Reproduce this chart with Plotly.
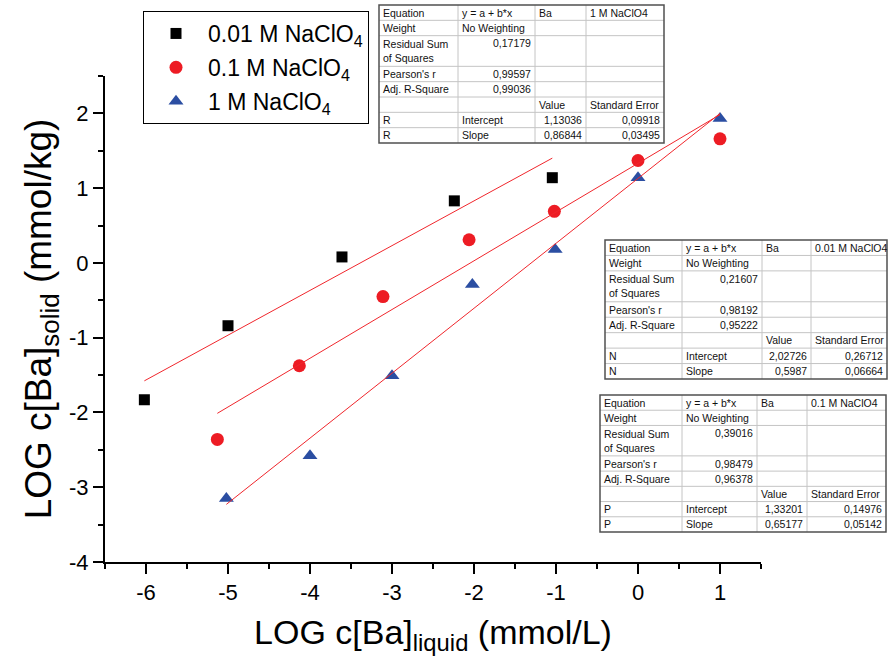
import plotly.graph_objects as go

# ---------------- data ----------------
series_names = ["0.01 M NaClO<sub>4</sub>", "0.1 M NaClO<sub>4</sub>", "1 M NaClO<sub>4</sub>"]

x_001 = [-6.02, -5.0, -3.61, -2.24, -1.045]
y_001 = [-1.83, -0.84, 0.08, 0.83, 1.14]

x_01 = [-5.13, -4.13, -3.11, -2.06, -1.02, 0.0, 1.0]
y_01 = [-2.36, -1.375, -0.45, 0.31, 0.69, 1.37, 1.66]

x_1 = [-5.02, -4.0, -3.0, -2.02, -1.01, 0.0, 1.0]
y_1 = [-3.15, -2.58, -1.51, -0.29, 0.18, 1.14, 1.93]

# linear fit results (same order as series)
fit_intercept = [2.02726, 1.33201, 1.13036]
fit_slope = [0.5987, 0.65177, 0.86844]

# fit report tables (order: 1 M, 0.01 M, 0.1 M as drawn top to bottom)
table_series = ["1 M NaClO4", "0.01 M NaClO4", "0.1 M NaClO4"]
table_rss = ["0,17179", "0,21607", "0,39016"]
table_pearson = ["0,99597", "0,98192", "0,98479"]
table_adjr2 = ["0,99036", "0,95222", "0,96378"]
table_letter = ["R", "N", "P"]
table_intercept = ["1,13036", "2,02726", "1,33201"]
table_intercept_se = ["0,09918", "0,26712", "0,14976"]
table_slope = ["0,86844", "0,5987", "0,65177"]
table_slope_se = ["0,03495", "0,06664", "0,05142"]

x_ticks = [-6, -5, -4, -3, -2, -1, 0, 1]
y_ticks = [-4, -3, -2, -1, 0, 1, 2]

# ---------------- layout helpers ----------------
W, H = 889, 671
ML, MR, MT, MB = 105, 128, 76, 109
PW, PH = W - ML - MR, H - MT - MB
FONT = "Liberation Sans, Arial, Helvetica, sans-serif"


def px(x):
    return (x - ML) / PW


def py(y):
    return (H - MB - y) / PH


fig = go.Figure()

xs = [x_001, x_01, x_1]
ys = [y_001, y_01, y_1]
symbols = ["square", "circle", "triangle-up"]
colors = ["#000000", "#ED1C24", "#2B4EA2"]
sizes = [11, 13, 13]

for i in range(3):
    fig.add_trace(go.Scatter(
        x=xs[i], y=ys[i], mode="markers", name=series_names[i],
        legendgroup=str(i),
        marker=dict(symbol=symbols[i], color=colors[i], size=sizes[i], line=dict(width=0)),
    ))

for i in range(3):
    xr = [min(xs[i]), max(xs[i])]
    yr = [fit_intercept[i] + fit_slope[i] * v for v in xr]
    fig.add_trace(go.Scatter(
        x=xr, y=yr, mode="lines", showlegend=False, hoverinfo="skip",
        line=dict(color="#F0262C", width=1),
    ))

# ---------------- tables ----------------
table_cols = [
    [379, 458, 535, 586, 664],
    [605, 682, 762, 811, 887],
    [600, 682, 757, 807, 886],
]
table_top = [5, 240, 395]
table_bottom = [143, 379, 532]

shapes = []
annotations = []
for t in range(3):
    cols = table_cols[t]
    top, bot = table_top[t], table_bottom[t]
    unit = (bot - top) / 9.0
    units = [1, 1, 2, 1, 1, 1, 1, 1]
    lines_y = [top]
    for u in units:
        lines_y.append(lines_y[-1] + u * unit)
    shapes.append(dict(type="rect", xref="paper", yref="paper", layer="above",
                       x0=px(cols[0]), x1=px(cols[-1]), y0=py(top), y1=py(bot),
                       fillcolor="white", line=dict(width=0)))
    for yl in lines_y[1:-1]:
        shapes.append(dict(type="line", xref="paper", yref="paper", layer="above",
                           x0=px(cols[0]), x1=px(cols[-1]), y0=py(yl), y1=py(yl),
                           line=dict(color="#C4C4C4", width=1)))
    for xc in cols[1:-1]:
        shapes.append(dict(type="line", xref="paper", yref="paper", layer="above",
                           x0=px(xc), x1=px(xc), y0=py(top), y1=py(bot),
                           line=dict(color="#C4C4C4", width=1)))
    shapes.append(dict(type="rect", xref="paper", yref="paper", layer="above",
                       x0=px(cols[0]), x1=px(cols[-1]), y0=py(top), y1=py(bot),
                       line=dict(color="#505050", width=1.5)))

    rows = [
        [("Equation", "l"), ("y = a + b*x", "l"), ("Ba", "l"), (table_series[t], "l")],
        [("Weight", "l"), ("No Weighting", "l"), ("", "l"), ("", "l")],
        [("Residual Sum<br>of Squares", "l"), (table_rss[t], "r"), ("", "l"), ("", "l")],
        [("Pearson's r", "l"), (table_pearson[t], "r"), ("", "l"), ("", "l")],
        [("Adj. R-Square", "l"), (table_adjr2[t], "r"), ("", "l"), ("", "l")],
        [("", "l"), ("", "l"), ("Value", "l"), ("Standard Error", "l")],
        [(table_letter[t], "l"), ("Intercept", "l"), (table_intercept[t], "r"), (table_intercept_se[t], "r")],
        [(table_letter[t], "l"), ("Slope", "l"), (table_slope[t], "r"), (table_slope_se[t], "r")],
    ]
    for r, row in enumerate(rows):
        y0, y1 = lines_y[r], lines_y[r + 1]
        for c, (txt, al) in enumerate(row):
            if not txt:
                continue
            if units[r] == 2 and c > 0:
                yc = y0 + unit / 2
            else:
                yc = (y0 + y1) / 2
            if al == "l":
                xa, anc = cols[c] + 3, "left"
            else:
                xa, anc = cols[c + 1] - 3, "right"
            annotations.append(dict(xref="paper", yref="paper", x=px(xa), y=py(yc),
                                    text=txt, showarrow=False, xanchor=anc, yanchor="middle",
                                    align="left", borderpad=0,
                                    font=dict(family=FONT, size=10.5, color="#111111")))

fig.update_layout(
    width=W, height=H,
    margin=dict(l=ML, r=MR, t=MT, b=MB, autoexpand=False),
    paper_bgcolor="white", plot_bgcolor="white",
    font=dict(family=FONT, color="black"),
    shapes=shapes, annotations=annotations,
    showlegend=True,
    legend=dict(x=px(143), y=py(11), xanchor="left", yanchor="top",
                bgcolor="white", bordercolor="black", borderwidth=1,
                font=dict(family=FONT, size=23, color="black"),
                itemwidth=54, entrywidth=160, entrywidthmode="pixels",
                traceorder="grouped", tracegroupgap=1),
)

fig.update_xaxes(
    range=[-6.5, 1.5], tickvals=x_ticks, ticktext=[str(v) for v in x_ticks],
    ticks="outside", ticklen=10, tickwidth=2,
    tickcolor="black", showline=True, linewidth=2, linecolor="black",
    showgrid=False, zeroline=False, tickfont=dict(family=FONT, size=22, color="black"),
    minor=dict(dtick=0.5, tick0=0, ticks="outside", ticklen=5, tickwidth=2, tickcolor="black"),
    title=dict(text="LOG c[Ba]<sub>liquid</sub> (mmol/L)", font=dict(family=FONT, size=34, color="black"),
               standoff=16),
)
fig.update_yaxes(
    range=[-4, 2.5], tickvals=y_ticks, ticktext=[str(v) for v in y_ticks],
    ticks="outside", ticklen=10, tickwidth=2,
    tickcolor="black", showline=True, linewidth=2, linecolor="black",
    showgrid=False, zeroline=False, tickfont=dict(family=FONT, size=22, color="black"),
    minor=dict(dtick=0.5, tick0=0, ticks="outside", ticklen=5, tickwidth=2, tickcolor="black"),
    title=dict(text="LOG c[Ba]<sub>solid</sub> (mmol/kg)", font=dict(family=FONT, size=37, color="black"),
               standoff=6),
)

fig.write_html("out.html")
